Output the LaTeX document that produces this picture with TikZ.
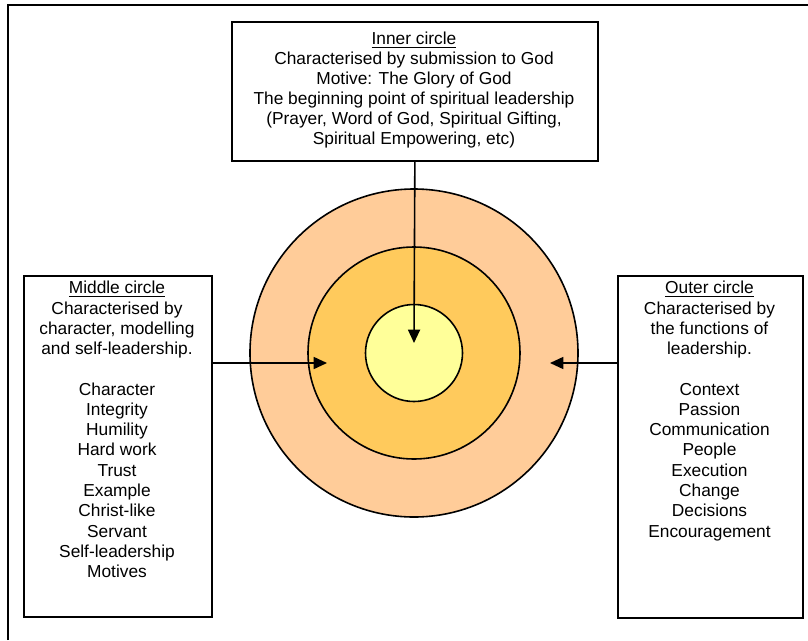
\documentclass[tikz,border=0pt]{standalone}
\usepackage{fontspec}
\setmainfont{Liberation Sans}
\usetikzlibrary{arrows.meta}
\definecolor{outerc}{HTML}{FFCC99}
\definecolor{midc}{HTML}{FFCA5C}
\definecolor{innerc}{HTML}{FFFF99}
\begin{document}
\begin{tikzpicture}[x=0.75pt,y=-0.75pt,
  box/.style={draw, line width=1.3pt, rectangle, inner sep=0pt, anchor=north west},
  txt/.style={align=center, inner sep=0pt, anchor=north, font=\fontsize{13pt}{15pt}\selectfont},
  stxt/.style={txt, font=\fontsize{13pt}{15.2pt}\selectfont},
  ring/.style={circle, draw, line width=1.2pt, inner sep=0pt},
  arr/.style={line width=1.2pt, -{Triangle[length=10pt,width=9pt]}}]
\useasboundingbox (0,0) rectangle (808,640);
\fill[white] (0,0) rectangle (808,640);
\draw[line width=1.6pt] (8,640) -- (8,5) -- (808,5);

% circles
\node[ring, fill=outerc, minimum size=246pt] (outer) at (414,353) {};
\node[ring, fill=midc, minimum size=159pt] (middle) at (414,353) {};
\node[ring, fill=innerc, minimum size=72.75pt] (inner) at (414,353) {};

% boxes
\node[box, minimum width=274.5pt, minimum height=104.25pt] (tbox) at (231,21) {};
\node[box, minimum width=141pt, minimum height=255.75pt] (lbox) at (23,275) {};
\node[box, minimum width=138.75pt, minimum height=256.5pt] (rbox) at (617,275) {};

% texts
\node[txt] (ttext) at (414,32) {\underline{Inner circle}\\
Characterised by submission to God\\
Motive: The Glory of God\\
The beginning point of spiritual leadership\\
(Prayer, Word of God, Spiritual Gifting,\\
Spiritual Empowering, etc)};

\node[stxt] (ltext) at (117,281) {\underline{Middle circle}\\
Characterised by\\
character, modelling\\
and self-leadership.\\[15.2pt]
Character\\
Integrity\\
Humility\\
Hard work\\
Trust\\
Example\\
Christ-like\\
Servant\\
Self-leadership\\
Motives};

\node[stxt] (rtext) at (709.5,281) {\underline{Outer circle}\\
Characterised by\\
the functions of\\
leadership.\\[15.2pt]
Context\\
Passion\\
Communication\\
People\\
Execution\\
Change\\
Decisions\\
Encouragement};

% arrows
\coordinate (ttip) at (414,343);
\coordinate (ltip) at (327,363);
\coordinate (rtip) at (550,363);
\draw[arr] (tbox.south) -- (ttip);
\draw[arr] (lbox.east |- ltip) -- (ltip);
\draw[arr] (rbox.west |- rtip) -- (rtip);
\end{tikzpicture}
\end{document}
